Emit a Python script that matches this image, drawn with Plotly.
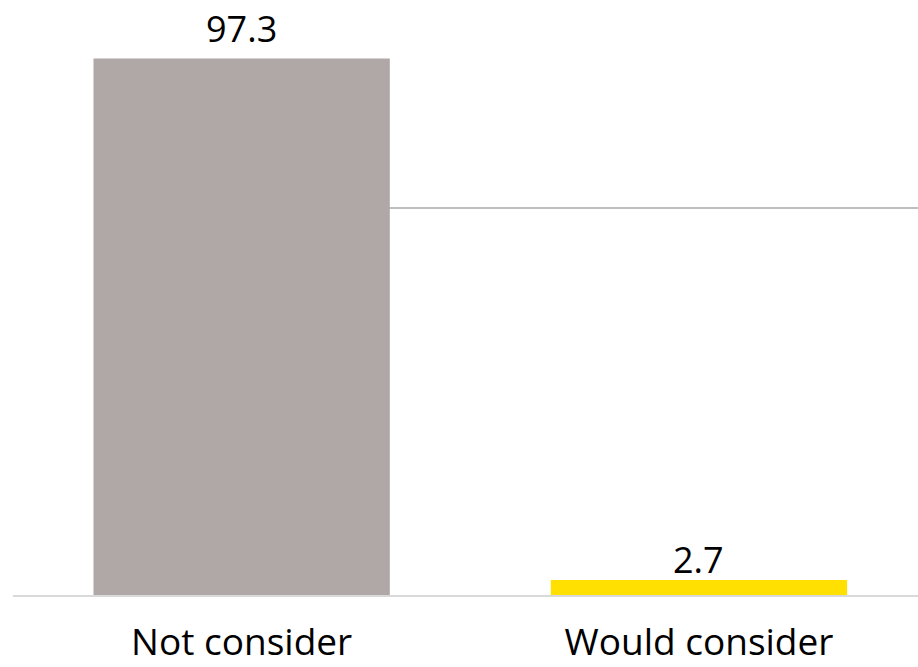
import plotly.graph_objects as go

categories = ["Not consider", "Would consider"]
values = [97.3, 2.7]
bar_colors = ["#B0A8A6", "#FFE000"]
label_text = ["97.3", "2.7"]
reference_level = 70.2

FONT = "Open Sans"

fig = go.Figure()
fig.add_trace(go.Bar(
    x=categories,
    y=values,
    marker=dict(color=bar_colors, line=dict(width=0)),
    width=0.648,
    hoverinfo="skip",
))

label_shift = [3, -6]
for c, v, t, s in zip(categories, values, label_text, label_shift):
    fig.add_annotation(
        x=c, y=v, text=t, showarrow=False, yanchor="bottom", yshift=s,
        font=dict(family=FONT, size=36, color="#000000"),
    )

fig.add_shape(
    type="line", xref="x", yref="y",
    x0=0, x1=1.479, y0=reference_level, y1=reference_level,
    line=dict(color="#BFBFBF", width=2), layer="below",
)

fig.update_layout(
    width=918, height=667,
    margin=dict(l=13, r=0, t=16, b=72),
    paper_bgcolor="white", plot_bgcolor="white",
    showlegend=False,
    xaxis=dict(
        type="category",
        range=[-0.5, 1.479],
        automargin=False,
        showline=True, linecolor="#D9D9D9", linewidth=2,
        showgrid=False, zeroline=False, ticks="",
        tickfont=dict(family=FONT, size=37, color="#000000"),
        ticklabelstandoff=14,
    ),
    yaxis=dict(
        range=[0, 105],
        automargin=False,
        showgrid=False, zeroline=False, showticklabels=False,
        showline=False, ticks="",
    ),
)

fig.write_html("out.html")
